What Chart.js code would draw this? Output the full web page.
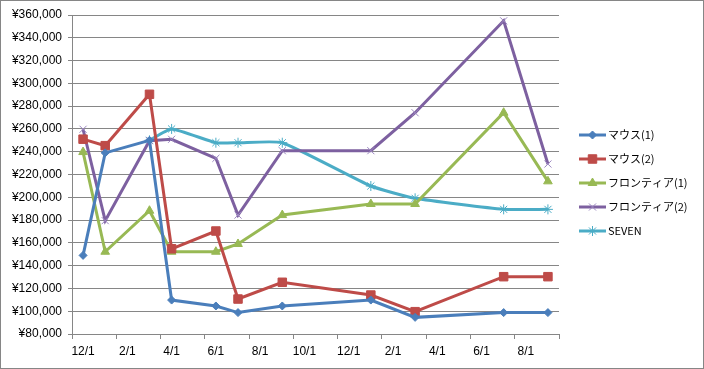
<!DOCTYPE html>
<html>
<head>
<meta charset="utf-8">
<script src="https://cdn.jsdelivr.net/npm/chart.js@4"></script>
<style>
  html, body { margin: 0; padding: 0; background: #fff; }
  #wrap { width: 704px; height: 369px; }
</style>
</head>
<body>
<div id="wrap"><canvas id="chart" width="704" height="369"></canvas></div>
<script>
// Months on the date axis (Excel snapped every point to a month slot)
const months = [
    '12/1', '1/1', '2/1', '3/1', '4/1', '5/1', '6/1', '7/1', '8/1', '9/1', '10/1', '11/1',
    '12/1', '1/1', '2/1', '3/1', '4/1', '5/1', '6/1', '7/1', '8/1', '9/1'
];

const mouse1 = [149000, 239000, null, 250000, 109800, null, 104600, 98800, null, 104600, null, null,
    null, 109800, null, 94600, null, null, null, 98800, null, 98800];
const mouse2 = [251000, 245300, null, 290400, 154800, null, 170400, 110700, null, 125400, null, null,
    null, 114200, null, 99600, null, null, null, 130300, null, 130300];
const frontier1 = [239700, 152200, null, 188200, 152200, null, 152200, 159000, null, 184400, null, null,
    null, 194100, null, 194100, null, null, null, 274200, null, 214000];
const frontier2 = [259700, 179500, null, 249700, 250900, null, 234200, 184400, null, 240900, null, null,
    null, 240900, null, 274200, null, null, null, 354900, null, 229200];
const seven = [null, null, null, 250000, 260000, null, 247900, 247900, null, 247900, null, null,
    null, 209900, null, 199100, null, null, null, 189400, null, 189400];

const yMin = 80000;
const yMax = 360000;
const yStep = 20000;

const gridColor = '#868686';
const fontFamily = "'Liberation Sans', Arial, sans-serif";
const jpFont = "'Noto Sans CJK JP', sans-serif";

function makeSeries(label, data, color, style, radius, markerColor, markerWidth) {
    return {
        label: label,
        data: data,
        borderColor: color,
        backgroundColor: markerColor || color,
        pointBorderColor: markerColor || color,
        pointBackgroundColor: markerColor || color,
        pointStyle: style,
        pointRadius: radius,
        pointHoverRadius: radius,
        pointBorderWidth: markerWidth || 1,
        borderWidth: 3,
        tension: 0,
        spanGaps: true
    };
}

const datasets = [
    makeSeries('マウス(1)', mouse1, '#4A7EBB', 'rectRot', 4),
    makeSeries('マウス(2)', mouse2, '#BE4B48', 'rect', 6),
    makeSeries('フロンティア(1)', frontier1, '#98B954', 'triangle', 5),
    makeSeries('フロンティア(2)', frontier2, '#7D60A0', 'crossRot', 5, '#9b86c0', 1),
    makeSeries('SEVEN', seven, '#4BACC6', 'star', 5, '#4BACC6', 1)
];
// SEVEN is a (lightly) smoothed line in the original
datasets[4].tension = 0.15;

// white background + thin frame around the whole chart
const framePlugin = {
    id: 'frame',
    beforeDraw(chart) {
        const ctx = chart.ctx;
        ctx.save();
        ctx.fillStyle = '#fff';
        ctx.fillRect(0, 0, chart.width, chart.height);
        ctx.strokeStyle = gridColor;
        ctx.lineWidth = 1;
        ctx.strokeRect(0.5, 0.5, chart.width - 1, chart.height - 1);
        ctx.restore();
    }
};

// Excel style legend: line sample with marker, then the label
const legendPlugin = {
    id: 'excelLegend',
    afterDraw(chart) {
        const ctx = chart.ctx;
        const x0 = 579, x1 = 606;
        const rows = [135, 159, 183, 207, 231];
        ctx.save();
        chart.data.datasets.forEach((ds, i) => {
            const y = rows[i];
            ctx.strokeStyle = ds.borderColor;
            ctx.lineWidth = 3;
            ctx.beginPath();
            ctx.moveTo(x0, y);
            ctx.lineTo(x1, y);
            ctx.stroke();
            ctx.fillStyle = ds.pointBackgroundColor;
            ctx.strokeStyle = ds.pointBorderColor;
            ctx.lineWidth = ds.pointBorderWidth;
            Chart.helpers.drawPoint(ctx, { pointStyle: ds.pointStyle, radius: ds.pointRadius, rotation: 0, borderWidth: ds.pointBorderWidth }, (x0 + x1) / 2, y);
            ctx.fillStyle = '#000';
            ctx.font = '11px ' + jpFont;
            ctx.textBaseline = 'middle';
            ctx.textAlign = 'left';
            ctx.fillText(ds.label, x1 + 2, y);
        });
        ctx.restore();
    }
};

const ctx = document.getElementById('chart').getContext('2d');
const chart = new Chart(ctx, {
    type: 'line',
    data: {
        labels: months,
        datasets: datasets
    },
    plugins: [framePlugin, legendPlugin],
    options: {
        responsive: false,
        animation: false,
        devicePixelRatio: 1,
        layout: {
            padding: { top: 15, right: 145, bottom: 0, left: 0 }
        },
        plugins: {
            legend: { display: false },
            tooltip: { enabled: false }
        },
        scales: {
            x: {
                type: 'category',
                offset: true,
                afterFit: (scale) => { scale.height = 35; },
                grid: {
                    offset: true,
                    drawOnChartArea: false,
                    tickLength: 5,
                    // tick marks only every second month boundary
                    color: (c) => (c.index === undefined || c.index % 2 === 0) ? gridColor : 'rgba(0,0,0,0)'
                },
                border: { color: gridColor },
                ticks: {
                    autoSkip: false,
                    maxRotation: 0,
                    padding: 5,
                    color: '#000',
                    font: { family: fontFamily, size: 12 },
                    callback: function (value, index) {
                        return index % 2 === 0 ? months[index] : '';
                    }
                }
            },
            y: {
                min: yMin,
                max: yMax,
                afterFit: (scale) => { scale.width = 72; },
                grid: {
                    color: gridColor,
                    tickLength: 4
                },
                border: { color: gridColor },
                ticks: {
                    stepSize: yStep,
                    padding: 6,
                    color: '#000',
                    font: { family: fontFamily, size: 12 },
                    callback: (v) => '¥' + v.toLocaleString('en-US')
                }
            }
        }
    }
});
</script>
</body>
</html>
